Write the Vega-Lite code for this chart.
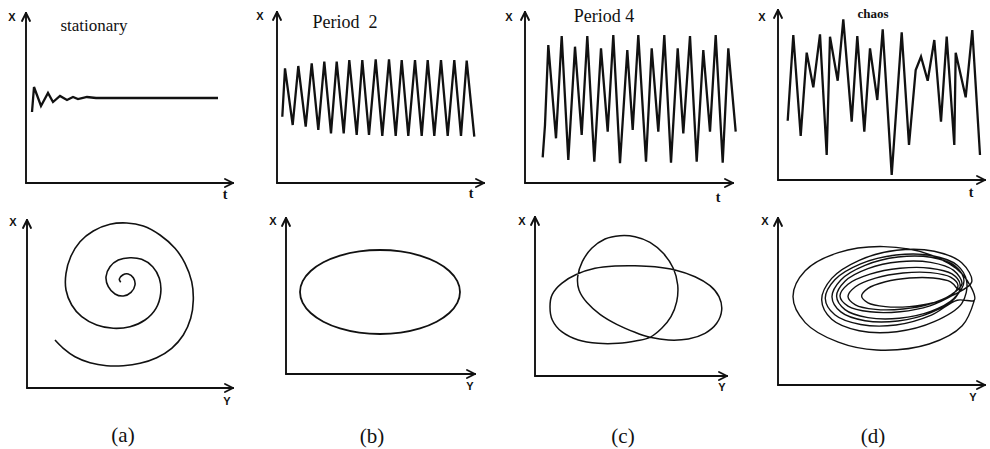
{
"$schema": "https://vega.github.io/schema/vega-lite/v6.json",
"padding": 0,
"background": "white",
"config": {"view": {"stroke": null}},
"spacing": 0,
"vconcat": [
{"hconcat": [
 {"width": 245, "height": 210,
  "encoding": {"x": {"field": "x", "type": "quantitative", "scale": {"domain": [-26, 219], "nice": false, "zero": false}, "axis": null},
               "y": {"field": "y", "type": "quantitative", "scale": {"domain": [-27, 183], "nice": false, "zero": false}, "axis": null}},
  "layer": [
   {"data": {"values": [{"x": 0, "y": 0, "x2": 207, "y2": 0}, {"x": 0, "y": 0, "x2": 0, "y2": 170}, {"x": 199, "y": 4, "x2": 207, "y2": 0}, {"x": 199, "y": -4, "x2": 207, "y2": 0}, {"x": -4, "y": 162, "x2": 0, "y2": 170}, {"x": 4, "y": 162, "x2": 0, "y2": 170}]}, "mark": {"type": "rule", "color": "#111", "strokeWidth": 1.9, "strokeCap": "round"}, "encoding": {"x2": {"field": "x2"}, "y2": {"field": "y2"}}},
   {"data": {"values": [{"i":0,"x":6,"y":71},{"i":1,"x":8,"y":96},{"i":2,"x":15,"y":77},{"i":3,"x":22,"y":90},{"i":4,"x":27,"y":81},{"i":5,"x":34,"y":87},{"i":6,"x":41,"y":83},{"i":7,"x":47,"y":86},{"i":8,"x":52,"y":84},{"i":9,"x":61,"y":86},{"i":10,"x":70,"y":85},{"i":11,"x":192,"y":85}]}, "mark": {"type": "line", "color": "#111", "strokeWidth": 2.3}, "encoding": {"order": {"field": "i", "type": "quantitative"}}},
   {"data": {"values": [{"x": -14, "y": 165, "label": "X"}]}, "mark": {"type": "text", "font": "Liberation Sans", "fontSize": 11, "fontWeight": "bold", "color": "#111"}, "encoding": {"text": {"field": "label"}}},
   {"data": {"values": [{"x": 199, "y": -12, "label": "t"}]}, "mark": {"type": "text", "font": "Liberation Serif", "fontSize": 14, "fontWeight": "bold", "color": "#111"}, "encoding": {"text": {"field": "label"}}},
   {"data": {"values": [{"x": 68, "y": 152, "label": "stationary"}]}, "mark": {"type": "text", "font": "Liberation Serif", "fontSize": 17, "baseline": "alphabetic", "color": "#111"}, "encoding": {"text": {"field": "label"}}}
  ]},
 {"width": 250, "height": 210,
  "encoding": {"x": {"field": "x", "type": "quantitative", "scale": {"domain": [-32, 218], "nice": false, "zero": false}, "axis": null},
               "y": {"field": "y", "type": "quantitative", "scale": {"domain": [-27, 183], "nice": false, "zero": false}, "axis": null}},
  "layer": [
   {"data": {"values": [{"x": 0, "y": 0, "x2": 207, "y2": 0}, {"x": 0, "y": 0, "x2": 0, "y2": 171}, {"x": 199, "y": 4, "x2": 207, "y2": 0}, {"x": 199, "y": -4, "x2": 207, "y2": 0}, {"x": -4, "y": 163, "x2": 0, "y2": 171}, {"x": 4, "y": 163, "x2": 0, "y2": 171}]}, "mark": {"type": "rule", "color": "#111", "strokeWidth": 1.9, "strokeCap": "round"}, "encoding": {"x2": {"field": "x2"}, "y2": {"field": "y2"}}},
   {"data": {"values": [{"i":0,"x":5.3,"y":66.3},{"i":1,"x":8,"y":114.7},{"i":2,"x":15.7,"y":58},{"i":3,"x":21.3,"y":117},{"i":4,"x":28.7,"y":56.3},{"i":5,"x":34.7,"y":119.7},{"i":6,"x":41.3,"y":53},{"i":7,"x":47.3,"y":121.3},{"i":8,"x":54,"y":49.7},{"i":9,"x":59.7,"y":121.3},{"i":10,"x":66.7,"y":49.7},{"i":11,"x":72.3,"y":123},{"i":12,"x":79.7,"y":48},{"i":13,"x":85.3,"y":123},{"i":14,"x":92,"y":48},{"i":15,"x":98.7,"y":123.7},{"i":16,"x":105.3,"y":47},{"i":17,"x":112,"y":123.7},{"i":18,"x":118.7,"y":47},{"i":19,"x":124.7,"y":123},{"i":20,"x":131.3,"y":47},{"i":21,"x":138,"y":123},{"i":22,"x":144.7,"y":47},{"i":23,"x":150.7,"y":123},{"i":24,"x":157.3,"y":47},{"i":25,"x":164,"y":123},{"i":26,"x":170.7,"y":47},{"i":27,"x":177.3,"y":123},{"i":28,"x":184,"y":47},{"i":29,"x":189.7,"y":122.3},{"i":30,"x":197.3,"y":46.3}]}, "mark": {"type": "line", "color": "#111", "strokeWidth": 2.3}, "encoding": {"order": {"field": "i", "type": "quantitative"}}},
   {"data": {"values": [{"x": -17, "y": 166, "label": "X"}]}, "mark": {"type": "text", "font": "Liberation Sans", "fontSize": 11, "fontWeight": "bold", "color": "#111"}, "encoding": {"text": {"field": "label"}}},
   {"data": {"values": [{"x": 194, "y": -11, "label": "t"}]}, "mark": {"type": "text", "font": "Liberation Serif", "fontSize": 14, "fontWeight": "bold", "color": "#111"}, "encoding": {"text": {"field": "label"}}},
   {"data": {"values": [{"x": 68, "y": 155, "label": "Period\u00a0\u00a02"}]}, "mark": {"type": "text", "font": "Liberation Serif", "fontSize": 18, "baseline": "alphabetic", "color": "#111"}, "encoding": {"text": {"field": "label"}}}
  ]},
 {"width": 250, "height": 210,
  "encoding": {"x": {"field": "x", "type": "quantitative", "scale": {"domain": [-30, 220], "nice": false, "zero": false}, "axis": null},
               "y": {"field": "y", "type": "quantitative", "scale": {"domain": [-27, 183], "nice": false, "zero": false}, "axis": null}},
  "layer": [
   {"data": {"values": [{"x": 0, "y": 0, "x2": 208, "y2": 0}, {"x": 0, "y": 0, "x2": 0, "y2": 171}, {"x": 200, "y": 4, "x2": 208, "y2": 0}, {"x": 200, "y": -4, "x2": 208, "y2": 0}, {"x": -4, "y": 163, "x2": 0, "y2": 171}, {"x": 4, "y": 163, "x2": 0, "y2": 171}]}, "mark": {"type": "rule", "color": "#111", "strokeWidth": 1.9, "strokeCap": "round"}, "encoding": {"x2": {"field": "x2"}, "y2": {"field": "y2"}}},
   {"data": {"values": [{"i":0,"x":17.7,"y":25.7},{"i":1,"x":20,"y":58},{"i":2,"x":23.3,"y":138},{"i":3,"x":31,"y":44.7},{"i":4,"x":36.7,"y":147},{"i":5,"x":43.3,"y":23},{"i":6,"x":50,"y":136.3},{"i":7,"x":56.7,"y":48},{"i":8,"x":62.3,"y":147},{"i":9,"x":69.3,"y":21.3},{"i":10,"x":76,"y":134.7},{"i":11,"x":82.7,"y":51.3},{"i":12,"x":88.3,"y":148},{"i":13,"x":95,"y":19.7},{"i":14,"x":102.3,"y":133},{"i":15,"x":107.7,"y":53},{"i":16,"x":113.3,"y":148},{"i":17,"x":121,"y":21.3},{"i":18,"x":126.7,"y":134.7},{"i":19,"x":133.3,"y":51.3},{"i":20,"x":139.3,"y":148},{"i":21,"x":146,"y":20.3},{"i":22,"x":152.7,"y":134.7},{"i":23,"x":158.3,"y":49.7},{"i":24,"x":165,"y":147},{"i":25,"x":171.7,"y":21.3},{"i":26,"x":178.3,"y":133},{"i":27,"x":185,"y":51.3},{"i":28,"x":190.7,"y":148},{"i":29,"x":197.7,"y":20.3},{"i":30,"x":203.3,"y":134.7},{"i":31,"x":210.7,"y":51.3}]}, "mark": {"type": "line", "color": "#111", "strokeWidth": 2.3}, "encoding": {"order": {"field": "i", "type": "quantitative"}}},
   {"data": {"values": [{"x": -16, "y": 165, "label": "X"}]}, "mark": {"type": "text", "font": "Liberation Sans", "fontSize": 11, "fontWeight": "bold", "color": "#111"}, "encoding": {"text": {"field": "label"}}},
   {"data": {"values": [{"x": 193, "y": -15, "label": "t"}]}, "mark": {"type": "text", "font": "Liberation Serif", "fontSize": 14, "fontWeight": "bold", "color": "#111"}, "encoding": {"text": {"field": "label"}}},
   {"data": {"values": [{"x": 79, "y": 161, "label": "Period 4"}]}, "mark": {"type": "text", "font": "Liberation Serif", "fontSize": 18, "baseline": "alphabetic", "color": "#111"}, "encoding": {"text": {"field": "label"}}}
  ]},
 {"width": 245, "height": 210,
  "encoding": {"x": {"field": "x", "type": "quantitative", "scale": {"domain": [-33, 212], "nice": false, "zero": false}, "axis": null},
               "y": {"field": "y", "type": "quantitative", "scale": {"domain": [-30, 180], "nice": false, "zero": false}, "axis": null}},
  "layer": [
   {"data": {"values": [{"x": 0, "y": 0, "x2": 207, "y2": 0}, {"x": 0, "y": 0, "x2": 0, "y2": 170}, {"x": 199, "y": 4, "x2": 207, "y2": 0}, {"x": 199, "y": -4, "x2": 207, "y2": 0}, {"x": -4, "y": 162, "x2": 0, "y2": 170}, {"x": 4, "y": 162, "x2": 0, "y2": 170}]}, "mark": {"type": "rule", "color": "#111", "strokeWidth": 1.9, "strokeCap": "round"}, "encoding": {"x2": {"field": "x2"}, "y2": {"field": "y2"}}},
   {"data": {"values": [{"i":0,"x":9.7,"y":59.3},{"i":1,"x":15.3,"y":145},{"i":2,"x":22.7,"y":44},{"i":3,"x":28.7,"y":127.3},{"i":4,"x":35.3,"y":92.7},{"i":5,"x":42,"y":145.7},{"i":6,"x":48.7,"y":25},{"i":7,"x":52,"y":143.3},{"i":8,"x":59.7,"y":99.3},{"i":9,"x":65.3,"y":160.7},{"i":10,"x":73.7,"y":58.3},{"i":11,"x":79.3,"y":144},{"i":12,"x":86.3,"y":48.3},{"i":13,"x":92,"y":131.7},{"i":14,"x":99.3,"y":80},{"i":15,"x":104.7,"y":150.7},{"i":16,"x":113.7,"y":5},{"i":17,"x":123.7,"y":147.7},{"i":18,"x":131,"y":35},{"i":19,"x":137.7,"y":110},{"i":20,"x":143,"y":123.3},{"i":21,"x":149.7,"y":99.3},{"i":22,"x":156.3,"y":140},{"i":23,"x":163,"y":58.3},{"i":24,"x":168.7,"y":143.3},{"i":25,"x":176.3,"y":35},{"i":26,"x":177.7,"y":127.3},{"i":27,"x":187.7,"y":82.7},{"i":28,"x":194.3,"y":150},{"i":29,"x":202,"y":25}]}, "mark": {"type": "line", "color": "#111", "strokeWidth": 2.3}, "encoding": {"order": {"field": "i", "type": "quantitative"}}},
   {"data": {"values": [{"x": -16, "y": 162, "label": "X"}]}, "mark": {"type": "text", "font": "Liberation Sans", "fontSize": 11, "fontWeight": "bold", "color": "#111"}, "encoding": {"text": {"field": "label"}}},
   {"data": {"values": [{"x": 193, "y": -13, "label": "t"}]}, "mark": {"type": "text", "font": "Liberation Serif", "fontSize": 14, "fontWeight": "bold", "color": "#111"}, "encoding": {"text": {"field": "label"}}},
   {"data": {"values": [{"x": 95, "y": 166, "label": "chaos"}]}, "mark": {"type": "text", "font": "Liberation Serif", "fontSize": 13, "fontWeight": "bold", "color": "#111"}, "encoding": {"text": {"field": "label"}}}
  ]}
], "spacing": 0},
{"hconcat": [
 {"width": 245, "height": 239,
  "encoding": {"x": {"field": "x", "type": "quantitative", "scale": {"domain": [-27, 218], "nice": false, "zero": false}, "axis": null},
               "y": {"field": "y", "type": "quantitative", "scale": {"domain": [-61, 178], "nice": false, "zero": false}, "axis": null}},
  "layer": [
   {"data": {"values": [{"x": 0, "y": 0, "x2": 206, "y2": 0}, {"x": 0, "y": 0, "x2": 0, "y2": 168}, {"x": 198, "y": 4, "x2": 206, "y2": 0}, {"x": 198, "y": -4, "x2": 206, "y2": 0}, {"x": -4, "y": 160, "x2": 0, "y2": 168}, {"x": 4, "y": 160, "x2": 0, "y2": 168}]}, "mark": {"type": "rule", "color": "#111", "strokeWidth": 1.9, "strokeCap": "round"}, "encoding": {"x2": {"field": "x2"}, "y2": {"field": "y2"}}},
   {"data": {"values": [{"i":0,"x":28,"y":48},{"i":1,"x":36.3,"y":39.7},{"i":2,"x":48,"y":31.3},{"i":3,"x":63,"y":25.3},{"i":4,"x":79.7,"y":22.3},{"i":5,"x":96.3,"y":22.3},{"i":6,"x":113,"y":24.7},{"i":7,"x":129.7,"y":30.3},{"i":8,"x":144.7,"y":39.7},{"i":9,"x":156.3,"y":53},{"i":10,"x":163.7,"y":69.7},{"i":11,"x":166.3,"y":88},{"i":12,"x":164.7,"y":106.3},{"i":13,"x":158,"y":124.7},{"i":14,"x":148,"y":139.7},{"i":15,"x":133,"y":153},{"i":16,"x":116.3,"y":162},{"i":17,"x":99.7,"y":165},{"i":18,"x":83,"y":163.7},{"i":19,"x":66.3,"y":157},{"i":20,"x":53,"y":146.3},{"i":21,"x":43.7,"y":131.3},{"i":22,"x":39,"y":114.7},{"i":23,"x":39,"y":98},{"i":24,"x":44.7,"y":83},{"i":25,"x":54.7,"y":71.3},{"i":26,"x":69.7,"y":63},{"i":27,"x":86.3,"y":59.7},{"i":28,"x":103,"y":61.3},{"i":29,"x":118,"y":68},{"i":30,"x":129,"y":79.7},{"i":31,"x":133.7,"y":94.7},{"i":32,"x":132.3,"y":109.7},{"i":33,"x":125.7,"y":121.3},{"i":34,"x":114.7,"y":128.7},{"i":35,"x":103,"y":130.3},{"i":36,"x":91.3,"y":128},{"i":37,"x":83,"y":121.3},{"i":38,"x":79,"y":111.3},{"i":39,"x":81.3,"y":101.3},{"i":40,"x":88,"y":94},{"i":41,"x":96.3,"y":92},{"i":42,"x":104,"y":95.7},{"i":43,"x":108,"y":103},{"i":44,"x":106.3,"y":110.3},{"i":45,"x":101.3,"y":114},{"i":46,"x":95.7,"y":113},{"i":47,"x":92.3,"y":109},{"i":48,"x":93.7,"y":105.7}]}, "mark": {"type": "line", "color": "#111", "strokeWidth": 1.6, "interpolate": "catmull-rom"}, "encoding": {"order": {"field": "i", "type": "quantitative"}}},
   {"data": {"values": [{"x": -14, "y": 165, "label": "X"}, {"x": 200, "y": -14, "label": "Y"}]}, "mark": {"type": "text", "font": "Liberation Sans", "fontSize": 11, "fontWeight": "bold", "color": "#111"}, "encoding": {"text": {"field": "label"}}},
   {"data": {"values": [{"x": 96, "y": -48, "label": "(a)"}]}, "mark": {"type": "text", "font": "Liberation Serif", "fontSize": 21, "color": "#111"}, "encoding": {"text": {"field": "label"}}}
  ]},
 {"width": 250, "height": 239,
  "encoding": {"x": {"field": "x", "type": "quantitative", "scale": {"domain": [-41, 209], "nice": false, "zero": false}, "axis": null},
               "y": {"field": "y", "type": "quantitative", "scale": {"domain": [-75, 164], "nice": false, "zero": false}, "axis": null}},
  "layer": [
   {"data": {"values": [{"x": 0, "y": 0, "x2": 189, "y2": 0}, {"x": 0, "y": 0, "x2": 0, "y2": 156}, {"x": 181, "y": 4, "x2": 189, "y2": 0}, {"x": 181, "y": -4, "x2": 189, "y2": 0}, {"x": -4, "y": 148, "x2": 0, "y2": 156}, {"x": 4, "y": 148, "x2": 0, "y2": 156}]}, "mark": {"type": "rule", "color": "#111", "strokeWidth": 1.9, "strokeCap": "round"}, "encoding": {"x2": {"field": "x2"}, "y2": {"field": "y2"}}},
   {"data": {"values": [{"i":0,"x":174,"y":82},{"i":1,"x":171.3,"y":92.9},{"i":2,"x":163.3,"y":103},{"i":3,"x":150.6,"y":111.7},{"i":4,"x":134,"y":118.4},{"i":5,"x":114.7,"y":122.6},{"i":6,"x":94,"y":124},{"i":7,"x":73.3,"y":122.6},{"i":8,"x":54,"y":118.4},{"i":9,"x":37.4,"y":111.7},{"i":10,"x":24.7,"y":103},{"i":11,"x":16.7,"y":92.9},{"i":12,"x":14,"y":82},{"i":13,"x":16.7,"y":71.1},{"i":14,"x":24.7,"y":61},{"i":15,"x":37.4,"y":52.3},{"i":16,"x":54,"y":45.6},{"i":17,"x":73.3,"y":41.4},{"i":18,"x":94,"y":40},{"i":19,"x":114.7,"y":41.4},{"i":20,"x":134,"y":45.6},{"i":21,"x":150.6,"y":52.3},{"i":22,"x":163.3,"y":61},{"i":23,"x":171.3,"y":71.1}]}, "mark": {"type": "line", "color": "#111", "strokeWidth": 1.8, "interpolate": "cardinal-closed"}, "encoding": {"order": {"field": "i", "type": "quantitative"}}},
   {"data": {"values": [{"x": -13, "y": 152, "label": "X"}, {"x": 184, "y": -13, "label": "Y"}]}, "mark": {"type": "text", "font": "Liberation Sans", "fontSize": 11, "fontWeight": "bold", "color": "#111"}, "encoding": {"text": {"field": "label"}}},
   {"data": {"values": [{"x": 86, "y": -63, "label": "(b)"}]}, "mark": {"type": "text", "font": "Liberation Serif", "fontSize": 21, "color": "#111"}, "encoding": {"text": {"field": "label"}}}
  ]},
 {"width": 250, "height": 239,
  "encoding": {"x": {"field": "x", "type": "quantitative", "scale": {"domain": [-40, 210], "nice": false, "zero": false}, "axis": null},
               "y": {"field": "y", "type": "quantitative", "scale": {"domain": [-73, 166], "nice": false, "zero": false}, "axis": null}},
  "layer": [
   {"data": {"values": [{"x": 0, "y": 0, "x2": 192, "y2": 0}, {"x": 0, "y": 0, "x2": 0, "y2": 159}, {"x": 184, "y": 4, "x2": 192, "y2": 0}, {"x": 184, "y": -4, "x2": 192, "y2": 0}, {"x": -4, "y": 151, "x2": 0, "y2": 159}, {"x": 4, "y": 151, "x2": 0, "y2": 159}]}, "mark": {"type": "rule", "color": "#111", "strokeWidth": 1.9, "strokeCap": "round"}, "encoding": {"x2": {"field": "x2"}, "y2": {"field": "y2"}}},
   {"data": {"values": [{"i":0,"x":85,"y":140.3},{"i":1,"x":70,"y":137},{"i":2,"x":56.7,"y":127.7},{"i":3,"x":47.3,"y":114.3},{"i":4,"x":42.7,"y":99.3},{"i":5,"x":44,"y":86},{"i":6,"x":51.7,"y":73.7},{"i":7,"x":65,"y":61.7},{"i":8,"x":81.7,"y":51.7},{"i":9,"x":100,"y":43.7},{"i":10,"x":115,"y":38.7},{"i":11,"x":133.3,"y":36},{"i":12,"x":153.3,"y":37},{"i":13,"x":170,"y":42.7},{"i":14,"x":181.7,"y":52.7},{"i":15,"x":186.7,"y":66},{"i":16,"x":184,"y":79.3},{"i":17,"x":175,"y":90.3},{"i":18,"x":160,"y":99.3},{"i":19,"x":140,"y":106},{"i":20,"x":120,"y":109.3},{"i":21,"x":100,"y":110.3},{"i":22,"x":80,"y":110},{"i":23,"x":60,"y":107.7},{"i":24,"x":41.7,"y":101.7},{"i":25,"x":26.7,"y":92.7},{"i":26,"x":17.3,"y":81.7},{"i":27,"x":15,"y":69.3},{"i":28,"x":17.3,"y":56},{"i":29,"x":26.7,"y":44.3},{"i":30,"x":43.3,"y":36},{"i":31,"x":63.3,"y":32.7},{"i":32,"x":83.3,"y":32.7},{"i":33,"x":101.7,"y":35.3},{"i":34,"x":115,"y":38.7},{"i":35,"x":126.7,"y":47.7},{"i":36,"x":136,"y":59.3},{"i":37,"x":141.7,"y":74.3},{"i":38,"x":142.7,"y":91},{"i":39,"x":138.3,"y":107.7},{"i":40,"x":128.3,"y":122.7},{"i":41,"x":115,"y":133.7},{"i":42,"x":100,"y":139.3}]}, "mark": {"type": "line", "color": "#111", "strokeWidth": 1.5, "interpolate": "cardinal-closed"}, "encoding": {"order": {"field": "i", "type": "quantitative"}}},
   {"data": {"values": [{"x": -13, "y": 154, "label": "X"}, {"x": 187, "y": -12, "label": "Y"}]}, "mark": {"type": "text", "font": "Liberation Sans", "fontSize": 11, "fontWeight": "bold", "color": "#111"}, "encoding": {"text": {"field": "label"}}},
   {"data": {"values": [{"x": 88, "y": -61, "label": "(c)"}]}, "mark": {"type": "text", "font": "Liberation Serif", "fontSize": 21, "color": "#111"}, "encoding": {"text": {"field": "label"}}}
  ]},
 {"width": 245, "height": 239,
  "encoding": {"x": {"field": "x", "type": "quantitative", "scale": {"domain": [-33, 212], "nice": false, "zero": false}, "axis": null},
               "y": {"field": "y", "type": "quantitative", "scale": {"domain": [-64, 175], "nice": false, "zero": false}, "axis": null}},
  "layer": [
   {"data": {"values": [{"x": 0, "y": 0, "x2": 207, "y2": 0}, {"x": 0, "y": 0, "x2": 0, "y2": 167}, {"x": 199, "y": 4, "x2": 207, "y2": 0}, {"x": 199, "y": -4, "x2": 207, "y2": 0}, {"x": -4, "y": 159, "x2": 0, "y2": 167}, {"x": 4, "y": 159, "x2": 0, "y2": 167}]}, "mark": {"type": "rule", "color": "#111", "strokeWidth": 1.9, "strokeCap": "round"}, "encoding": {"x2": {"field": "x2"}, "y2": {"field": "y2"}}},
   {"data": {"values": [
     {"i":0,"x":179,"y":96.5},{"i":1,"x":172.6,"y":103.2},{"i":2,"x":155.2,"y":107},{"i":3,"x":131.3,"y":107},{"i":4,"x":107.4,"y":103.2},{"i":5,"x":90,"y":96.6},{"i":6,"x":83.6,"y":88.9},{"i":7,"x":90,"y":82.2},{"i":8,"x":107.4,"y":78.4},{"i":9,"x":131.3,"y":78.4},{"i":10,"x":155.2,"y":82.2},{"i":11,"x":172.6,"y":88.8},
     {"i":12,"x":180,"y":99.5},{"i":13,"x":172.6,"y":107.8},{"i":14,"x":152.5,"y":112.4},{"i":15,"x":125,"y":112},{"i":16,"x":97.5,"y":106.8},{"i":17,"x":77.4,"y":98.2},{"i":18,"x":70,"y":88.5},{"i":19,"x":77.4,"y":80.2},{"i":20,"x":97.5,"y":75.6},{"i":21,"x":125,"y":76},{"i":22,"x":152.5,"y":81.2},{"i":23,"x":172.6,"y":89.8},
     {"i":24,"x":184,"y":101.3},{"i":25,"x":175.6,"y":114.6},{"i":26,"x":152.7,"y":122.6},{"i":27,"x":121.3,"y":123.3},{"i":28,"x":89.9,"y":116.4},{"i":29,"x":67,"y":103.8},{"i":30,"x":58.6,"y":88.7},{"i":31,"x":67,"y":75.4},{"i":32,"x":89.9,"y":67.4},{"i":33,"x":121.3,"y":66.7},{"i":34,"x":152.7,"y":73.6},{"i":35,"x":175.6,"y":86.2},
     {"i":36,"x":186,"y":103.9},{"i":37,"x":177.2,"y":118.9},{"i":38,"x":153,"y":127.7},{"i":39,"x":120,"y":128},{"i":40,"x":87,"y":119.7},{"i":41,"x":62.8,"y":105.1},{"i":42,"x":54,"y":88.1},{"i":43,"x":62.8,"y":73.1},{"i":44,"x":87,"y":64.3},{"i":45,"x":120,"y":64},{"i":46,"x":153,"y":72.3},{"i":47,"x":177.2,"y":86.9},
     {"i":48,"x":182,"y":101},{"i":49,"x":174,"y":111.1},{"i":50,"x":152,"y":116.8},{"i":51,"x":122,"y":116.7},{"i":52,"x":92,"y":110.8},{"i":53,"x":70,"y":100.7},{"i":54,"x":62,"y":89},{"i":55,"x":70,"y":78.9},{"i":56,"x":92,"y":73.2},{"i":57,"x":122,"y":73.3},{"i":58,"x":152,"y":79.2},{"i":59,"x":174,"y":89.3},
     {"i":60,"x":193.7,"y":103},{"i":61,"x":183.7,"y":122.2},{"i":62,"x":156.2,"y":133.7},{"i":63,"x":118.7,"y":134.7},{"i":64,"x":81.2,"y":124.7},{"i":65,"x":53.7,"y":106.6},{"i":66,"x":43.7,"y":85},{"i":67,"x":53.7,"y":65.8},{"i":68,"x":81.2,"y":54.3},{"i":69,"x":118.7,"y":53.3},{"i":70,"x":156.2,"y":63.3},{"i":71,"x":183.7,"y":81.4},
     {"i":72,"x":188.7,"y":103.5},{"i":73,"x":179.2,"y":119.8},{"i":74,"x":153.4,"y":129.5},{"i":75,"x":118,"y":130},{"i":76,"x":82.6,"y":121.1},{"i":77,"x":56.8,"y":105.2},{"i":78,"x":47.3,"y":86.5},{"i":79,"x":56.8,"y":70.2},{"i":80,"x":82.6,"y":60.5},{"i":81,"x":118,"y":60},{"i":82,"x":153.4,"y":69.9},{"i":83,"x":179.2,"y":84.8},
     {"i":84,"x":196.4,"y":84.9},{"i":85,"x":184.2,"y":111},{"i":86,"x":151.1,"y":130.6},{"i":87,"x":105.7,"y":138.4},{"i":88,"x":60.3,"y":132.4},{"i":89,"x":27.2,"y":114.2},{"i":90,"x":15,"y":88.5},{"i":91,"x":27.2,"y":62.4},{"i":92,"x":60.3,"y":42.8},{"i":93,"x":98.7,"y":35},{"i":94,"x":151.1,"y":41},{"i":95,"x":184.2,"y":59.2},{"i":96,"x":196.4,"y":84.9}
   ]}, "mark": {"type": "line", "color": "#111", "strokeWidth": 1.4, "interpolate": "catmull-rom"}, "encoding": {"order": {"field": "i", "type": "quantitative"}}},
   {"data": {"values": [{"x": -13, "y": 163, "label": "X"}, {"x": 195, "y": -13, "label": "Y"}]}, "mark": {"type": "text", "font": "Liberation Sans", "fontSize": 11, "fontWeight": "bold", "color": "#111"}, "encoding": {"text": {"field": "label"}}},
   {"data": {"values": [{"x": 95, "y": -52, "label": "(d)"}]}, "mark": {"type": "text", "font": "Liberation Serif", "fontSize": 21, "color": "#111"}, "encoding": {"text": {"field": "label"}}}
  ]}
], "spacing": 0}
]
}
